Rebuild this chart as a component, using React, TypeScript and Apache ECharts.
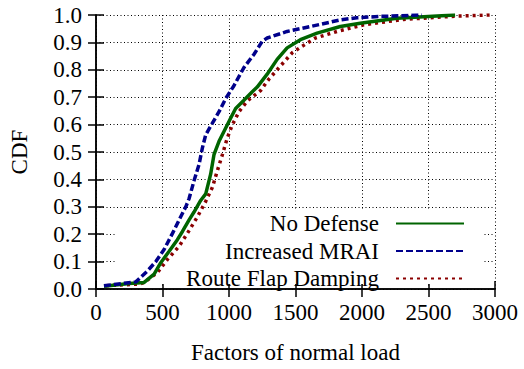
import React, { useEffect, useRef } from "react";
import * as echarts from "echarts";

// Load factor (x) and cumulative fraction (y) for each defense strategy
const noDefenseLoad = [60, 250, 362, 437, 487, 550, 612, 650, 700, 737, 787, 825, 862, 887, 925, 962, 1012, 1050, 1112, 1175, 1212, 1287, 1362, 1437, 1537, 1662, 1837, 1987, 2262, 2700];
const noDefenseCdf = [0.01, 0.02, 0.024, 0.054, 0.096, 0.138, 0.18, 0.21, 0.252, 0.281, 0.323, 0.347, 0.419, 0.49, 0.539, 0.575, 0.623, 0.659, 0.689, 0.72, 0.737, 0.784, 0.838, 0.88, 0.91, 0.934, 0.958, 0.97, 0.988, 1.0];

const mraiLoad = [60, 300, 387, 450, 512, 575, 625, 675, 700, 737, 775, 800, 825, 875, 925, 975, 1037, 1112, 1187, 1250, 1287, 1437, 1612, 1837, 1962, 2150, 2450];
const mraiCdf = [0.012, 0.026, 0.066, 0.1, 0.144, 0.203, 0.252, 0.3, 0.33, 0.395, 0.455, 0.515, 0.563, 0.605, 0.647, 0.695, 0.742, 0.808, 0.856, 0.904, 0.916, 0.94, 0.958, 0.982, 0.99, 0.995, 1.0];

const dampingLoad = [75, 325, 362, 462, 537, 625, 687, 762, 825, 875, 912, 950, 987, 1025, 1075, 1137, 1237, 1300, 1387, 1475, 1550, 1650, 1812, 1962, 2012, 2312, 2712, 2962];
const dampingCdf = [0.012, 0.018, 0.024, 0.06, 0.108, 0.156, 0.203, 0.263, 0.32, 0.371, 0.431, 0.49, 0.551, 0.599, 0.647, 0.686, 0.724, 0.766, 0.814, 0.862, 0.886, 0.916, 0.94, 0.958, 0.964, 0.984, 0.996, 1.0];

const seriesNames = ["No Defense", "Increased MRAI", "Route Flap Damping"];

const FONT = "Liberation Serif";

const pairs = (xs: number[], ys: number[]) => xs.map((x, i) => [x, ys[i]]);

export default function App() {
  const ref = useRef<HTMLDivElement>(null);

  useEffect(() => {
    const chart = echarts.init(ref.current!, null, { renderer: "svg" });
    const gridLine = { show: true, lineStyle: { color: "#000", width: 1, type: [1, 2.5] } };
    const tickStyle = { inside: true, length: 8, lineStyle: { color: "#000", width: 1.5 } };
    const axisLine = { show: true, lineStyle: { color: "#000", width: 1.5 } };
    const labelStyle = { color: "#000", fontFamily: FONT, fontSize: 23 };

    chart.setOption({
      animation: false,
      backgroundColor: "#fff",
      grid: { left: 95, right: 29, top: 15, bottom: 76, containLabel: false },
      xAxis: [
        {
          type: "value",
          min: 0,
          max: 3000,
          interval: 500,
          position: "bottom",
          name: "Factors of normal load",
          nameLocation: "middle",
          nameGap: 52,
          nameTextStyle: { ...labelStyle },
          axisLine,
          axisTick: tickStyle,
          axisLabel: { ...labelStyle, margin: 12, formatter: (v: number) => String(v) },
          splitLine: gridLine,
        },
        {
          type: "value",
          min: 0,
          max: 3000,
          interval: 500,
          position: "top",
          axisLine,
          axisTick: tickStyle,
          axisLabel: { show: false },
          splitLine: { show: false },
        },
      ],
      yAxis: [
        {
          type: "value",
          min: 0,
          max: 1,
          interval: 0.1,
          position: "left",
          name: "CDF",
          nameLocation: "middle",
          nameGap: 65,
          nameTextStyle: { ...labelStyle },
          axisLine,
          axisTick: tickStyle,
          axisLabel: { ...labelStyle, margin: 14, formatter: (v: number) => v.toFixed(1) },
          splitLine: gridLine,
        },
        {
          type: "value",
          min: 0,
          max: 1,
          interval: 0.1,
          position: "right",
          axisLine,
          axisTick: tickStyle,
          axisLabel: { show: false },
          splitLine: { show: false },
        },
      ],
      legend: {
        orient: "vertical",
        align: "right",
        right: 59,
        top: 212,
        padding: 0,
        itemGap: 4.5,
        itemWidth: 68,
        itemHeight: 10,
        selectedMode: false,
        data: seriesNames,
        itemStyle: { opacity: 0, borderWidth: 0 },
        textStyle: { ...labelStyle, lineHeight: 20, padding: [0, 12, 0, 0] },
      },
      // opaque key background over the grid lines
      graphic: [
        {
          type: "rect",
          z: 1,
          shape: { x: 115, y: 211, width: 369, height: 73 },
          style: { fill: "#fff" },
        },
      ],
      series: [
        {
          name: seriesNames[0],
          type: "line",
          symbol: "none",
          z: 3,
          data: pairs(noDefenseLoad, noDefenseCdf),
          lineStyle: { color: "#006400", width: 3.5 },
          itemStyle: { color: "#006400" },
        },
        {
          name: seriesNames[1],
          type: "line",
          symbol: "none",
          z: 4,
          data: pairs(mraiLoad, mraiCdf),
          lineStyle: { color: "#00008b", width: 3.5, type: [7, 3] },
          itemStyle: { color: "#00008b" },
        },
        {
          name: seriesNames[2],
          type: "line",
          symbol: "none",
          z: 2,
          data: pairs(dampingLoad, dampingCdf),
          lineStyle: { color: "#8b0000", width: 3.5, type: [3, 4] },
          itemStyle: { color: "#8b0000" },
        },
      ],
    });
    return () => chart.dispose();
  }, []);

  return (
    <div
      ref={ref}
      style={{ position: "fixed", left: 0, top: 0, width: 524, height: 369, background: "#fff" }}
    />
  );
}
